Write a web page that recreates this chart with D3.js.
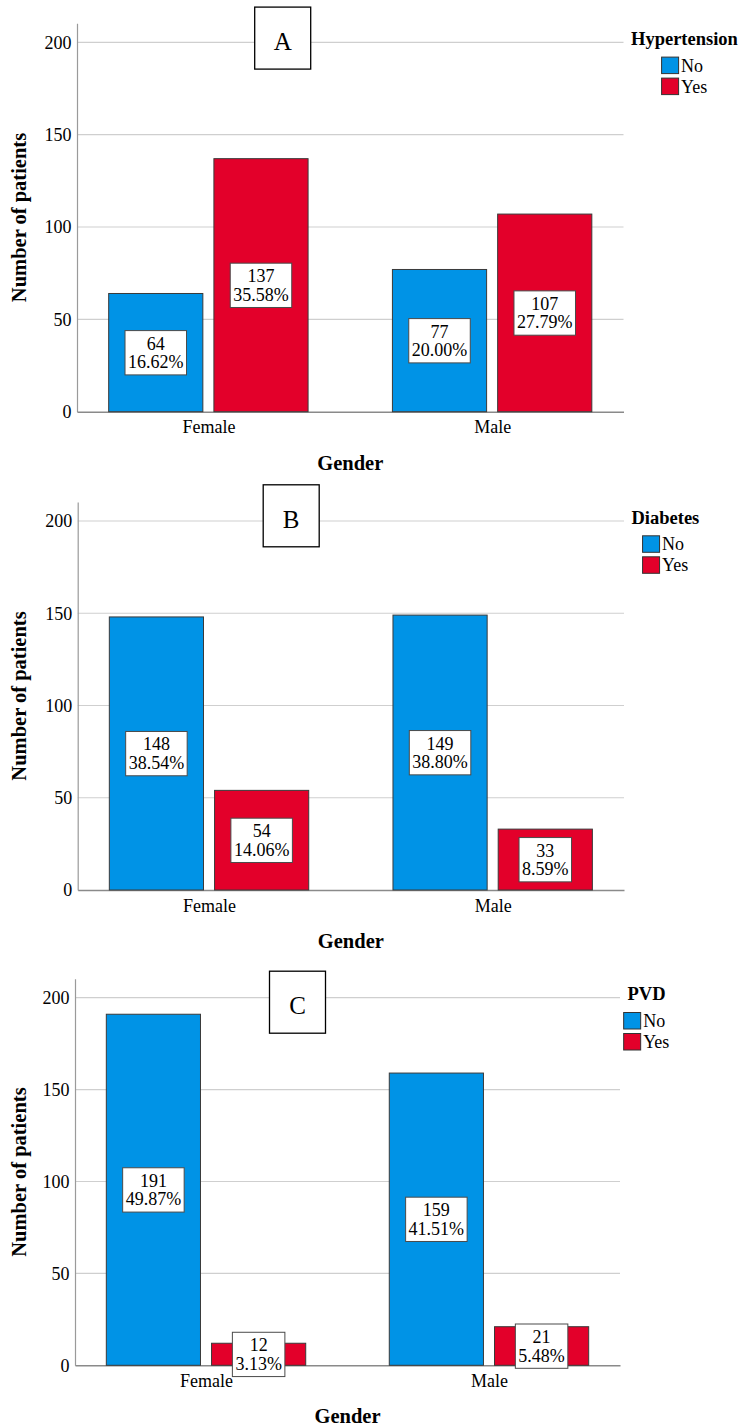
<!DOCTYPE html>
<html>
<head>
<meta charset="utf-8">
<script src="https://cdn.jsdelivr.net/npm/d3@7"></script>
<style>
  html, body { margin: 0; padding: 0; background: #ffffff; }
  svg { display: block; }
</style>
</head>
<body>
<svg id="chart" width="739" height="1426"></svg>
<script>
// ---- data ----
const genders = ["Female", "Male"];
const answers = ["No", "Yes"];
const yTicks = [0, 50, 100, 150, 200];
const yMax = 210.3;

const panelLetters = ["A", "B", "C"];
const legendTitles = ["Hypertension", "Diabetes", "PVD"];

// counts per gender: [No, Yes]
const hypertensionCounts = [[64, 137], [77, 107]];
const hypertensionPct    = [["16.62%", "35.58%"], ["20.00%", "27.79%"]];
const diabetesCounts     = [[148, 54], [149, 33]];
const diabetesPct        = [["38.54%", "14.06%"], ["38.80%", "8.59%"]];
const pvdCounts          = [[191, 12], [159, 21]];
const pvdPct             = [["49.87%", "3.13%"], ["41.51%", "5.48%"]];

const panelCounts = [hypertensionCounts, diabetesCounts, pvdCounts];
const panelPct = [hypertensionPct, diabetesPct, pvdPct];

const colors = { No: "#0093e6", Yes: "#e3002a" };
const FONT = "Liberation Serif";

// ---- layout of each panel ----
const layout = [
  { left: 77.0, right: 623.5, y0: 411.7, y200: 42.3, letterX: 282.7, letterY: 38.1 },
  { left: 77.7, right: 624.0, y0: 890.0, y200: 521.0, letterX: 291.2, letterY: 515.8 },
  { left: 75.0, right: 620.0, y0: 1365.3, y200: 997.7, letterX: 297.5, letterY: 1002.2 }
];

const svg = d3.select("#chart").attr("font-family", FONT);

function txt(sel, size, bold) {
  return sel.style("font-family", FONT).style("font-size", size + "px")
    .style("font-weight", bold ? "bold" : "normal").attr("fill", "#000");
}

panelLetters.forEach((letter, i) => {
  const L = layout[i];
  const counts = panelCounts[i];
  const pcts = panelPct[i];
  const g = svg.append("g");

  const yTopPx = L.y0 - (L.y0 - L.y200) * yMax / 200;
  const y = d3.scaleLinear().domain([0, yMax]).range([L.y0, yTopPx]);
  const x0 = d3.scalePoint().domain(genders).range([L.left, L.right]).padding(0.463);
  const x1 = d3.scaleBand().domain(answers).range([-99.7, 99.7]).paddingInner(0.105);

  // gridlines
  g.append("g")
    .selectAll("line")
    .data(yTicks.filter(t => t > 0))
    .join("line")
    .attr("x1", L.left).attr("x2", L.right)
    .attr("y1", d => y(d)).attr("y2", d => y(d))
    .attr("stroke", "#cfcfcf").attr("stroke-width", 1.2);

  // y axis with labels
  const yAxis = d3.axisLeft(y).tickValues(yTicks).tickSize(0).tickPadding(5.5);
  const ya = g.append("g").attr("transform", `translate(${L.left},0)`).call(yAxis)
    .attr("font-family", FONT);
  ya.select(".domain").attr("stroke", "#9a9a9a").attr("stroke-width", 1.2);
  txt(ya.selectAll("text"), 18, false);

  // x axis baseline + category labels
  const xAxis = d3.axisBottom(x0).tickSize(0).tickPadding(8);
  const xa = g.append("g").attr("transform", `translate(0,${L.y0})`).call(xAxis)
    .attr("font-family", FONT);
  xa.select(".domain").attr("stroke", "#8a8a8a").attr("stroke-width", 1.4);
  txt(xa.selectAll("text"), 18, false).attr("dy", null).attr("y", 21.6);

  // bars
  const rows = [];
  genders.forEach((gen, gi) => answers.forEach((ans, ai) => {
    rows.push({ gen, ans, v: counts[gi][ai], pct: pcts[gi][ai] });
  }));

  g.append("g").selectAll("rect")
    .data(rows)
    .join("rect")
    .attr("x", d => x0(d.gen) + x1(d.ans))
    .attr("y", d => y(d.v))
    .attr("width", x1.bandwidth())
    .attr("height", d => y(0) - y(d.v))
    .attr("fill", d => colors[d.ans])
    .attr("stroke", "#3a3a3a").attr("stroke-width", 1);

  // value labels (count + percent) centred at half of each bar
  const lbl = g.append("g").selectAll("g")
    .data(rows)
    .join("g")
    .attr("transform", d => `translate(${x0(d.gen) + x1(d.ans) + x1.bandwidth() / 2},${y(d.v / 2)})`);
  lbl.each(function (d) {
    const s = d3.select(this);
    const r = s.append("rect");
    const t1 = txt(s.append("text"), 18, false).attr("text-anchor", "middle").attr("y", -3).text(d.v);
    const t2 = txt(s.append("text"), 18, false).attr("text-anchor", "middle").attr("y", 15.6).text(d.pct);
    const w = Math.max(t1.node().getComputedTextLength(), t2.node().getComputedTextLength()) + 6;
    r.attr("x", -w / 2).attr("y", -22).attr("width", w).attr("height", 44.3)
      .attr("fill", "#fff").attr("stroke", "#4a4a4a").attr("stroke-width", 1);
  });

  // panel letter box
  const lb = g.append("g").attr("transform", `translate(${L.letterX},${L.letterY})`);
  lb.append("rect").attr("x", -28).attr("y", -31).attr("width", 56).attr("height", 62)
    .attr("fill", "#fff").attr("stroke", "#000").attr("stroke-width", 1.3);
  txt(lb.append("text"), 25, false).attr("text-anchor", "middle").attr("y", 12).text(letter);

  // axis titles
  txt(g.append("text"), 20.5, true)
    .attr("transform", `translate(26,${(L.y0 + yTopPx) / 2}) rotate(-90)`)
    .attr("text-anchor", "middle")
    .text("Number of patients");
  txt(g.append("text"), 20.5, true)
    .attr("x", (L.left + L.right) / 2).attr("y", L.y0 + 57.8)
    .attr("text-anchor", "middle")
    .text("Gender");

  // legend
  const lgX = L.right + 7.5;
  const lgY = L.y200 + 2.5;
  const title = txt(g.append("text"), 18.5, true).attr("x", lgX).attr("y", lgY)
    .text(legendTitles[i]);
  const titleCenter = lgX + title.node().getComputedTextLength() / 2;
  const items = g.append("g");
  answers.forEach((ans, ai) => {
    const it = items.append("g").attr("transform", `translate(0,${lgY + 12.3 + ai * 21})`);
    it.append("rect").attr("x", 0).attr("y", 0).attr("width", 17).attr("height", 16.5)
      .attr("fill", colors[ans]).attr("stroke", "#333").attr("stroke-width", 1);
    txt(it.append("text"), 18, false).attr("x", 19.5).attr("y", 14.5).text(ans);
  });
  const bb = items.node().getBBox();
  items.attr("transform", `translate(${titleCenter - bb.width / 2},0)`);
});
</script>
</body>
</html>
